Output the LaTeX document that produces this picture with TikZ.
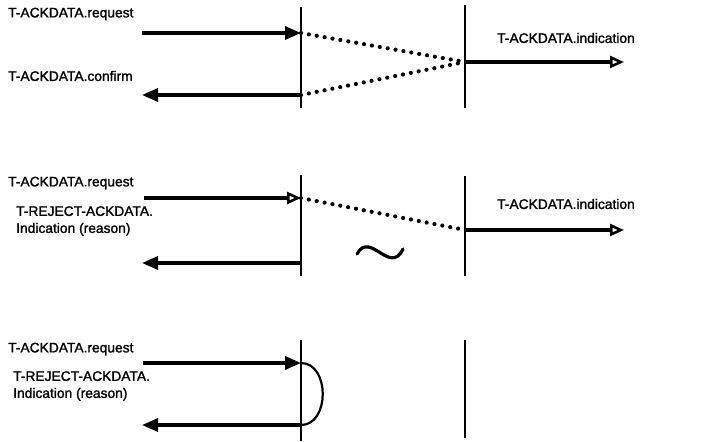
\documentclass[tikz,border=0pt]{standalone}
\usepackage{fontspec}
\setmainfont{Liberation Sans}[FakeBold=1.5]
\usetikzlibrary{arrows.meta}
\begin{document}
\begin{tikzpicture}[x=1pt,y=-1pt,
  lbl/.style={anchor=west,inner sep=0pt,font=\fontsize{13.8}{17}\selectfont,align=left},
  vline/.style={line width=2.6pt},
  prim/.style={line width=3.2pt},
  fillhead/.style={-{Triangle[length=16pt,width=13pt]}},
  openhead/.style={-{Triangle[open,length=14pt,width=12pt,line width=2.6pt]}},
  dots/.style={line width=4.2pt,dash pattern=on 0pt off 8pt,line cap=round}]
\useasboundingbox (0,0) rectangle (708,441);
% ---------- panel 1 ----------
\coordinate (l1t) at (301,7);   \coordinate (l1b) at (301,108);
\coordinate (r1t) at (465,5);   \coordinate (r1b) at (465,108);
\draw[vline] (l1t) -- (l1b);
\draw[vline] (r1t) -- (r1b);
\coordinate (rq1s) at (142,33); \coordinate (rq1e) at (301,33);
\coordinate (cf1s) at (301,95); \coordinate (cf1e) at (142,95);
\coordinate (m1) at (465,62);   \coordinate (in1e) at (624,62);
\draw[prim,fillhead] (rq1s) -- (rq1e);
\draw[prim,fillhead] (cf1s) -- (cf1e);
\draw[dots] (rq1e) -- (m1);
\draw[dots] (cf1s) -- (m1);
\draw[prim,openhead] (m1) -- (in1e);
\node[lbl] (t1a) at (8,14) {T-ACKDATA.request};
\node[lbl] (t1b) at (8,76) {T-ACKDATA.confirm};
\node[lbl] (t1c) at (497,38) {T-ACKDATA.indication};
% ---------- panel 2 ----------
\coordinate (l2t) at (301,175); \coordinate (l2b) at (301,276);
\coordinate (r2t) at (465,176); \coordinate (r2b) at (465,276);
\draw[vline] (l2t) -- (l2b);
\draw[vline] (r2t) -- (r2b);
\coordinate (rq2s) at (144,198); \coordinate (rq2e) at (301,198);
\coordinate (rj2s) at (301,263); \coordinate (rj2e) at (142,263);
\coordinate (m2) at (465,230);   \coordinate (in2e) at (624,230);
\draw[prim,openhead] (rq2s) -- (rq2e);
\draw[prim,fillhead] (rj2s) -- (rj2e);
\draw[dots] (rq2e) -- (m2);
\draw[prim,openhead] (m2) -- (in2e);
\draw[line width=3.2pt,line cap=round] (357,254) .. controls (370,230) and (390,276) .. (403,249);
\node[lbl] (t2a) at (8,183) {T-ACKDATA.request};
\node[lbl] (t2b) at (16,221) {T-REJECT-ACKDATA.\\Indication (reason)};
\node[lbl] (t2c) at (497,204) {T-ACKDATA.indication};
% ---------- panel 3 ----------
\coordinate (l3t) at (301,340); \coordinate (l3b) at (301,441);
\coordinate (r3t) at (465,340); \coordinate (r3b) at (465,438);
\draw[vline] (l3t) -- (l3b);
\draw[vline] (r3t) -- (r3b);
\coordinate (rq3s) at (143,363); \coordinate (rq3e) at (301,363);
\coordinate (rj3s) at (301,425); \coordinate (rj3e) at (142,425);
\draw[prim,fillhead] (rq3s) -- (rq3e);
\draw[prim,fillhead] (rj3s) -- (rj3e);
\draw[line width=2.2pt] (rq3e) .. controls (330,363) and (330,425) .. (rj3s);
\node[lbl] (t3a) at (8,349) {T-ACKDATA.request};
\node[lbl] (t3b) at (13,386) {T-REJECT-ACKDATA.\\Indication (reason)};
\end{tikzpicture}
\end{document}
